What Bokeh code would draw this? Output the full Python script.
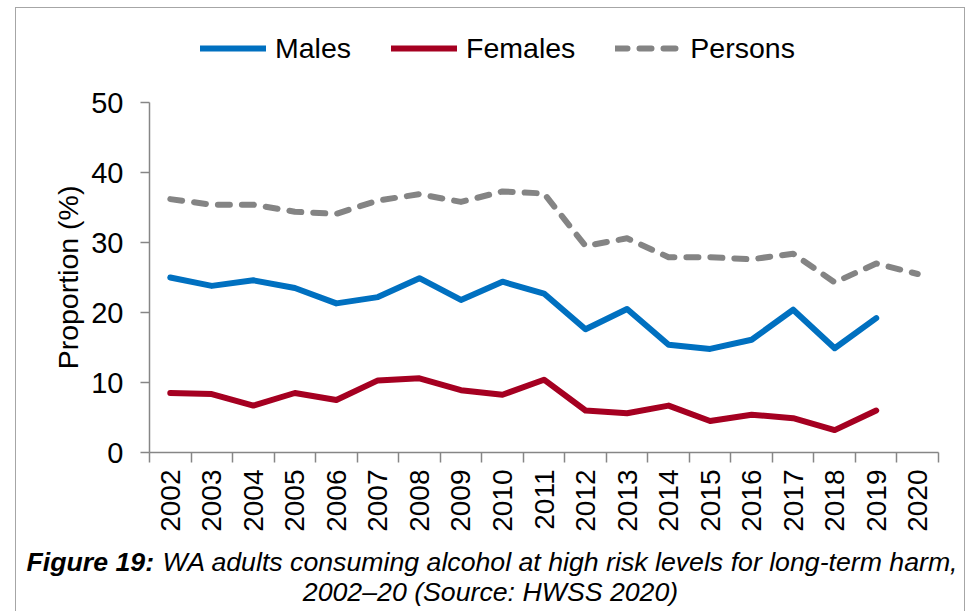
import math

from bokeh.plotting import figure
from bokeh.layouts import column
from bokeh.models import (ColumnDataSource, FixedTicker, Legend, LegendItem,
                          Label, Range1d, InlineStyleSheet)
from bokeh.embed import file_html
from bokeh.resources import INLINE

# Survey years and the share of WA adults drinking at long-term high-risk levels (%)
years = list(range(2002, 2021))
males = [25.0, 23.8, 24.6, 23.5, 21.3, 22.2, 24.9, 21.8, 24.4, 22.7,
         17.6, 20.5, 15.4, 14.8, 16.1, 20.4, 14.9, 19.2]
females = [8.5, 8.35, 6.7, 8.5, 7.5, 10.3, 10.6, 8.9, 8.25, 10.4,
           6.0, 5.6, 6.7, 4.5, 5.4, 4.9, 3.2, 6.0]
persons = [36.2, 35.4, 35.4, 34.4, 34.1, 36.0, 36.9, 35.8, 37.3, 37.0,
           29.5, 30.6, 27.9, 27.9, 27.6, 28.4, 24.3, 27.0, 25.5]
y_ticks = [0, 10, 20, 30, 40, 50]
series_names = ["Males", "Females", "Persons"]

FONT = "Liberation Sans"
AXIS_GREY = "#868686"
BLUE = "#0070C0"
RED = "#A50021"
GREY = "#848484"
STYLES = [dict(color=BLUE), dict(color=RED), dict(color=GREY, line_dash="12 12")]
LINE = dict(line_width=6, line_join="round", line_cap="round")
W = 971

src_sex = ColumnDataSource(dict(year=years[:len(males)], males=males, females=females))
src_all = ColumnDataSource(dict(year=years, persons=persons))
SERIES = [(src_sex, "males"), (src_sex, "females"), (src_all, "persons")]


def bare(height):
    """A figure whose plotting frame fills its whole canvas, with no axes."""
    f = figure(width=W, height=height, output_backend="svg", toolbar_location=None,
               x_range=Range1d(0, W), y_range=Range1d(0, height), min_border=0,
               x_axis_location=None, y_axis_location=None, frame_align=False)
    f.outline_line_color = None
    f.xgrid.visible = False
    f.ygrid.visible = False
    f.background_fill_color = "white"
    f.border_fill_color = "white"
    return f


# ---- legend strip -------------------------------------------------------
head = bare(80)
# hidden copies of the three series, used only as legend keys
keys = []
for (src, col), s in zip(SERIES, STYLES):
    r = head.line("year", col, source=src, **LINE, **s)
    r.visible = False
    keys.append(r)
legend = Legend(items=[LegendItem(label=n, renderers=[r]) for n, r in zip(series_names, keys)],
                orientation="horizontal", location=(200, 12),
                glyph_width=66, glyph_height=40, label_height=40,
                label_standoff=9, spacing=40,
                padding=0, margin=0, border_line_color=None,
                background_fill_alpha=0, inactive_fill_alpha=0,
                label_text_font=FONT, label_text_font_size="28.5px",
                label_text_color="black")
head.add_layout(legend)

# ---- chart --------------------------------------------------------------
p = figure(width=W, height=468, output_backend="svg", toolbar_location=None,
           x_range=Range1d(years[0] - 0.5, years[-1] + 0.5),
           y_range=Range1d(0, 50), frame_align=False,
           min_border_left=149, min_border_right=33,
           min_border_top=22, min_border_bottom=96)
p.outline_line_color = None
p.background_fill_color = "white"
p.border_fill_color = "white"
p.xgrid.visible = False
p.ygrid.visible = False

# x axis: year labels at category centres, tick marks between categories
p.xaxis.ticker = FixedTicker(ticks=years,
                             minor_ticks=[y - 0.5 for y in years] + [years[-1] + 0.5])
p.xaxis.major_label_overrides = {y: str(y) for y in years}
p.xaxis.major_label_orientation = math.pi / 2
p.xaxis.major_label_text_font = FONT
p.xaxis.major_label_text_font_size = "28px"
p.xaxis.major_label_text_color = "black"
p.xaxis.major_label_standoff = 7
p.xaxis.major_tick_out = 0
p.xaxis.major_tick_in = 0
p.xaxis.minor_tick_out = 10
p.xaxis.minor_tick_in = 0
p.xaxis.minor_tick_line_color = AXIS_GREY
p.xaxis.minor_tick_line_width = 1.5
p.xaxis.axis_line_color = AXIS_GREY
p.xaxis.axis_line_width = 1.5

# y axis
p.yaxis.ticker = FixedTicker(ticks=y_ticks)
p.yaxis.major_label_text_font = FONT
p.yaxis.major_label_text_font_size = "29px"
p.yaxis.major_label_text_color = "black"
p.yaxis.major_label_standoff = 17
p.yaxis.major_tick_out = 9
p.yaxis.major_tick_in = 0
p.yaxis.minor_tick_out = 0
p.yaxis.minor_tick_in = 0
p.yaxis.major_tick_line_color = AXIS_GREY
p.yaxis.major_tick_line_width = 1.5
p.yaxis.axis_line_color = AXIS_GREY
p.yaxis.axis_line_width = 1.5
p.yaxis.axis_label = "Proportion (%)"
p.yaxis.axis_label_text_font = FONT
p.yaxis.axis_label_text_font_size = "28.5px"
p.yaxis.axis_label_text_font_style = "normal"
p.yaxis.axis_label_text_color = "black"
p.yaxis.axis_label_standoff = 4

for (src, col), s in zip(SERIES, STYLES):
    p.line("year", col, source=src, **LINE, **s)

# ---- caption ------------------------------------------------------------
foot = bare(63)
cap = dict(x_units="canvas", y_units="canvas", text_font=FONT,
           text_font_size="26.7px", text_color="black", text_baseline="alphabetic")
foot.add_layout(Label(x=26, y=13, text="Figure 19:", text_font_style="bold italic",
                      text_align="left", **cap))
foot.add_layout(Label(x=162, y=13,
                      text="WA adults consuming alcohol at high risk levels for long-term harm,",
                      text_font_style="italic", text_align="left", **cap))
foot.add_layout(Label(x=490, y=43, text="2002\u201320 (Source: HWSS 2020)",
                      text_font_style="italic", text_align="center", **cap))

# thin grey frame round chart and caption, open at the bottom
page = column(head, p, foot, spacing=0, stylesheets=[InlineStyleSheet(css="""
:host::after {
  content: "";
  position: absolute;
  left: 15px; top: 7px;
  width: 948px; height: 604px;
  border: 1px solid #A6A6A6;
  border-bottom: none;
  pointer-events: none;
}
""")])

open("out.html", "w").write(file_html(page, INLINE))
